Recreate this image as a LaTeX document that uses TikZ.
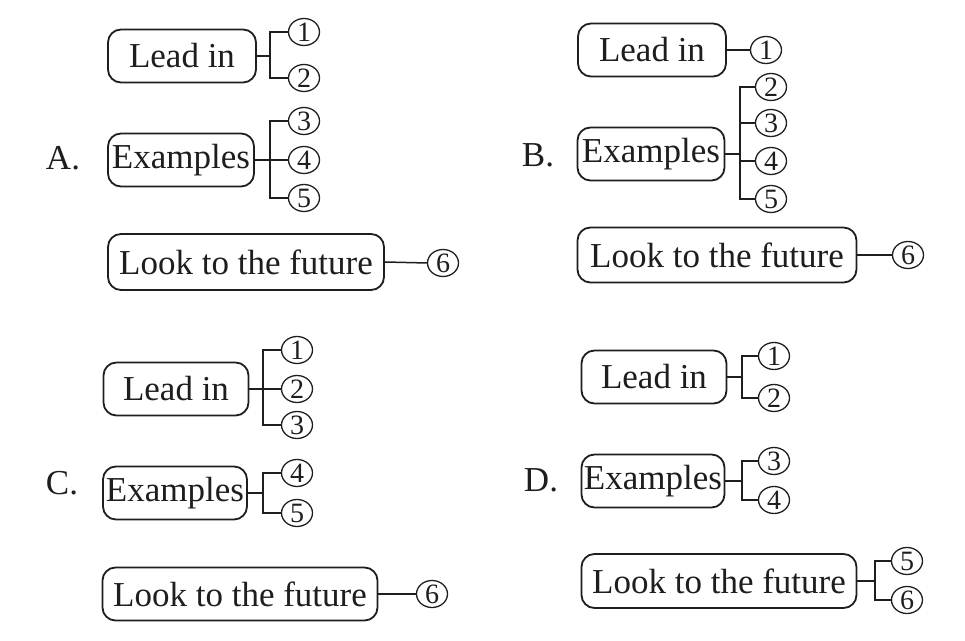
\documentclass[tikz,border=0pt]{standalone}
\usepackage{fontspec}
\setmainfont{Liberation Serif}
\usepackage{tikz}
\usetikzlibrary{shapes.geometric}
\definecolor{ink}{RGB}{30,30,30}
\tikzset{
  box/.style={draw=ink, line width=0.9pt, rounded corners=6.5pt, minimum height=26.5pt, inner sep=0pt, text=ink, font=\fontsize{17.5}{20}\selectfont},
  num/.style={draw=ink, ellipse, line width=0.65pt, minimum width=15.5pt, minimum height=13.5pt, inner sep=0pt, text=ink, font=\fontsize{14}{14}\selectfont},
  tag/.style={text=ink, font=\fontsize{17.5}{20}\selectfont},
  link/.style={draw=ink, line width=0.75pt}
}

\begin{document}
\begin{tikzpicture}[x=0.5pt, y=-0.5pt]
\useasboundingbox[fill=white] (0,0) rectangle (965,641);

% ---- A ----
\node[tag] (aTag) at (63,158) {A.};
\node[box, minimum width=74pt] (aLead) at (182,56) {Lead in};
\node[box, minimum width=73pt] (aEx) at (181,160) {Examples};
\node[box, minimum width=138pt, minimum height=28pt] (aLook) at (246,262) {Look to the future};
\node[num] (a1) at (304,32) {1};
\node[num] (a2) at (304,78) {2};
\node[num] (a3) at (304,121) {3};
\node[num] (a4) at (304,160) {4};
\node[num] (a5) at (304,198) {5};
\node[num] (a6) at (443,263) {6};
\coordinate (aLeadJ) at (270,56);
\coordinate (aExJ) at (270,160);
\draw[link] (aLead.east) -- (aLeadJ);
\draw[link] (a1.west) -| (aLeadJ) |- (a2.west);
\draw[link] (aEx.east) -- (a4.west);
\draw[link] (a3.west) -| (aExJ) |- (a5.west);
\draw[link] (aLook.east) -- (a6.west);

% ---- B ----
\node[tag] (bTag) at (538,155) {B.};
\node[box, minimum width=74pt] (bLead) at (652,50) {Lead in};
\node[box, minimum width=73.5pt] (bEx) at (651,154) {Examples};
\node[box, minimum width=139.5pt, minimum height=27.5pt] (bLook) at (717,255) {Look to the future};
\node[num] (b1) at (766,50) {1};
\node[num] (b2) at (771,87) {2};
\node[num] (b3) at (771,123) {3};
\node[num] (b4) at (771,161) {4};
\node[num] (b5) at (771,199) {5};
\node[num] (b6) at (908,255) {6};
\coordinate (bExJ) at (740,154);
\draw[link] (bLead.east) -- (b1.west);
\draw[link] (bEx.east) -- (bExJ);
\draw[link] (b2.west) -| (bExJ) |- (b5.west);
\draw[link] (bExJ) |- (b3.west);
\draw[link] (bExJ) |- (b4.west);
\draw[link] (bLook.east) -- (b6.west);

% ---- C ----
\node[tag] (cTag) at (62,483) {C.};
\node[box, minimum width=72.5pt] (cLead) at (176,389) {Lead in};
\node[box, minimum width=72pt] (cEx) at (175,493) {Examples};
\node[box, minimum width=137.5pt] (cLook) at (240,594) {Look to the future};
\node[num] (c1) at (297,350) {1};
\node[num] (c2) at (297,389) {2};
\node[num] (c3) at (297,425) {3};
\node[num] (c4) at (297,473) {4};
\node[num] (c5) at (297,513) {5};
\node[num] (c6) at (432,594) {6};
\coordinate (cLeadJ) at (263,389);
\coordinate (cExJ) at (263,493);
\draw[link] (cLead.east) -- (c2.west);
\draw[link] (c1.west) -| (cLeadJ) |- (c3.west);
\draw[link] (cEx.east) -- (cExJ);
\draw[link] (c4.west) -| (cExJ) |- (c5.west);
\draw[link] (cLook.east) -- (c6.west);

% ---- D ----
\node[tag] (dTag) at (541,480) {D.};
\node[box, minimum width=72.5pt] (dLead) at (654,377) {Lead in};
\node[box, minimum width=71.5pt] (dEx) at (653,481) {Examples};
\node[box, minimum width=137.5pt, minimum height=27pt] (dLook) at (719,581) {Look to the future};
\node[num] (d1) at (774,356) {1};
\node[num] (d2) at (774,398) {2};
\node[num] (d3) at (774,461) {3};
\node[num] (d4) at (774,500) {4};
\node[num] (d5) at (907,561) {5};
\node[num] (d6) at (907,600) {6};
\coordinate (dLeadJ) at (742,377);
\coordinate (dExJ) at (742,481);
\coordinate (dLookJ) at (875,581);
\draw[link] (dLead.east) -- (dLeadJ);
\draw[link] (d1.west) -| (dLeadJ) |- (d2.west);
\draw[link] (dEx.east) -- (dExJ);
\draw[link] (d3.west) -| (dExJ) |- (d4.west);
\draw[link] (dLook.east) -- (dLookJ);
\draw[link] (d5.west) -| (dLookJ) |- (d6.west);

\end{tikzpicture}
\end{document}
